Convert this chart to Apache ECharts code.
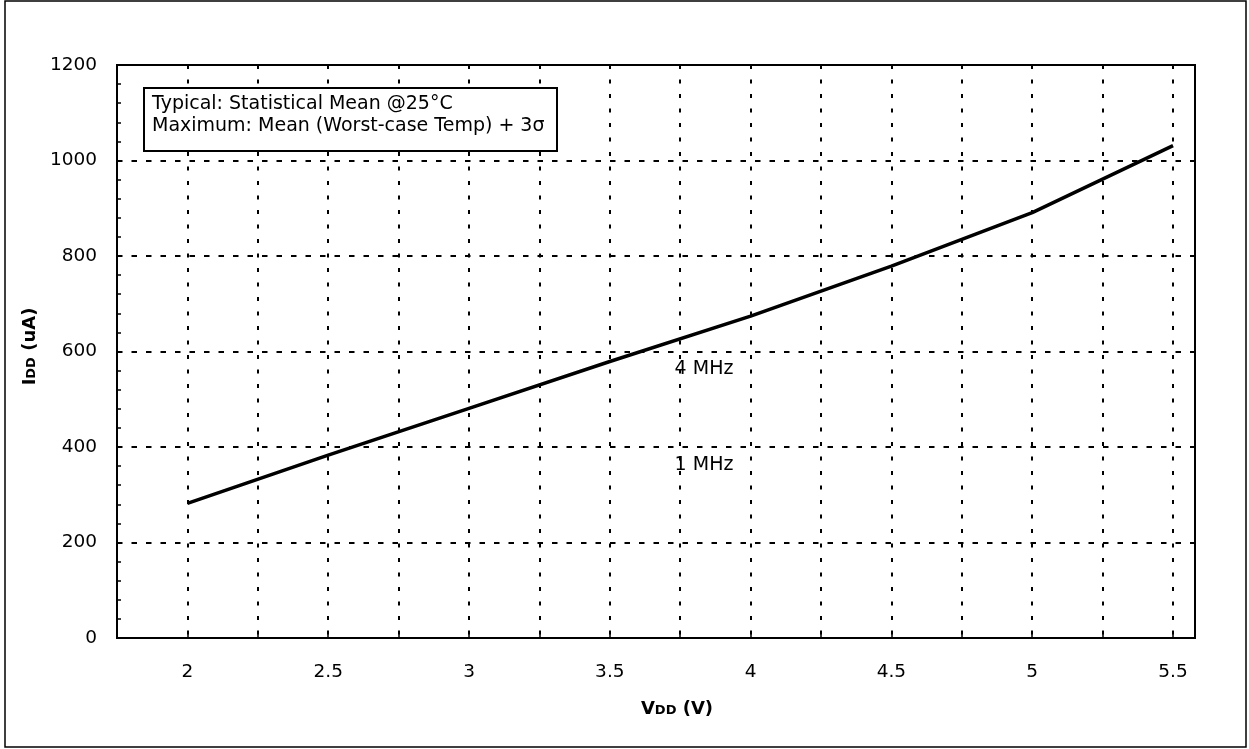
<!DOCTYPE html>
<html>
  <head>
    <meta charset="utf-8" />
    <script src="https://cdn.jsdelivr.net/npm/echarts@6/dist/echarts.min.js"></script>
  </head>
  <body>
    <style>
        #main,
        html,
        body {
          width: 100%;
          height: 100%;
          margin: 0;
          overflow: hidden;
          background: #fff;
        }
      </style>
    <div id="main"></div>
    <script type="text/javascript">
        // data
        var vdd = [2, 2.5, 3, 3.5, 4, 4.5, 5, 5.5];
        var idd = [282, 383, 481, 579, 674, 779, 891, 1031];
        var noteLines = ['Typical: Statistical Mean @25°C', 'Maximum: Mean (Worst-case Temp) + 3σ'];
        var curveLabels = ['4 MHz', '1 MHz'];

        var font = '"DejaVu Sans", Verdana, sans-serif';
        var myChart = echarts.init(document.getElementById('main'));

        var nameRich = {
          a: { fontSize: 18, fontWeight: 'bold', color: '#000', fontFamily: font, verticalAlign: 'bottom' },
          b: { fontSize: 13, fontWeight: 'bold', color: '#000', fontFamily: font, verticalAlign: 'bottom', padding: [0, 0, 1, 0] }
        };

        var option = {
          animation: false,
          textStyle: { fontFamily: font },
          grid: {
            left: 117,
            right: 54,
            top: 65,
            bottom: 111,
            show: true,
            borderColor: '#000',
            borderWidth: 2
          },
          xAxis: {
            type: 'value',
            min: 1.75,
            max: 5.578,
            interval: 0.25,
            name: '{a|V}{b|DD}{a| (V)}',
            nameLocation: 'middle',
            nameGap: 62,
            nameTextStyle: { rich: nameRich, padding: [0, 0, 0, 42] },
            axisLine: { lineStyle: { color: '#000', width: 2 } },
            axisTick: { inside: true, length: 4, lineStyle: { color: '#000', width: 1.5 } },
            axisLabel: {
              margin: 25,
              fontSize: 18.5,
              fontFamily: font,
              color: '#000',
              formatter: function (v) {
                if (v < 1.99 || v > 5.51) return '';
                return Math.abs(v * 2 - Math.round(v * 2)) < 1e-6 ? String(v) : '';
              }
            },
            splitLine: {
              show: true,
              showMinLine: false,
              showMaxLine: false,
              lineStyle: { color: '#000', width: 2, type: [4, 10.5] }
            }
          },
          yAxis: {
            type: 'value',
            min: 0,
            max: 1200,
            interval: 200,
            name: '{a|I}{b|DD}{a| (uA)}',
            nameLocation: 'middle',
            nameGap: 78,
            nameTextStyle: { rich: nameRich, padding: [0, 0, 0, 10] },
            axisLine: { show: true, lineStyle: { color: '#000', width: 2 } },
            axisTick: { show: true, inside: true, length: 4, lineStyle: { color: '#000', width: 1.5 } },
            minorTick: { show: true, splitNumber: 5, length: 4, lineStyle: { color: '#000', width: 1.5 } },
            axisLabel: {
              margin: 20,
              fontSize: 18.5,
              fontFamily: font,
              color: '#000',
              formatter: function (v) { return String(v); }
            },
            splitLine: {
              show: true,
              showMinLine: false,
              showMaxLine: false,
              lineStyle: { color: '#000', width: 2, type: [5.5, 9] }
            }
          },
          series: [
            {
              type: 'line',
              data: vdd.map(function (x, i) { return [x, idd[i]]; }),
              symbol: 'none',
              lineStyle: { color: '#000', width: 3.5 },
              z: 5
            }
          ],
          graphic: [
            {
              type: 'rect',
              shape: { x: 5, y: 1, width: 1241, height: 746 },
              style: { fill: 'none', stroke: '#000', lineWidth: 1.5 },
              silent: true
            },
            {
              type: 'rect',
              shape: { x: 144, y: 88, width: 413, height: 63 },
              style: { fill: '#fff', stroke: '#000', lineWidth: 2 },
              z: 10
            },
            {
              type: 'text',
              x: 152,
              y: 93,
              z: 11,
              style: { text: noteLines.join('\n'), font: '19px ' + font, lineHeight: 22, fill: '#000' }
            },
            {
              type: 'text',
              x: 704,
              y: 369,
              z: 11,
              style: { text: curveLabels[0], font: '19px ' + font, fill: '#000', align: 'center', verticalAlign: 'middle' }
            },
            {
              type: 'text',
              x: 704,
              y: 465,
              z: 11,
              style: { text: curveLabels[1], font: '19px ' + font, fill: '#000', align: 'center', verticalAlign: 'middle' }
            }
          ]
        };

        myChart.setOption(option);
      </script>
  </body>
</html>
